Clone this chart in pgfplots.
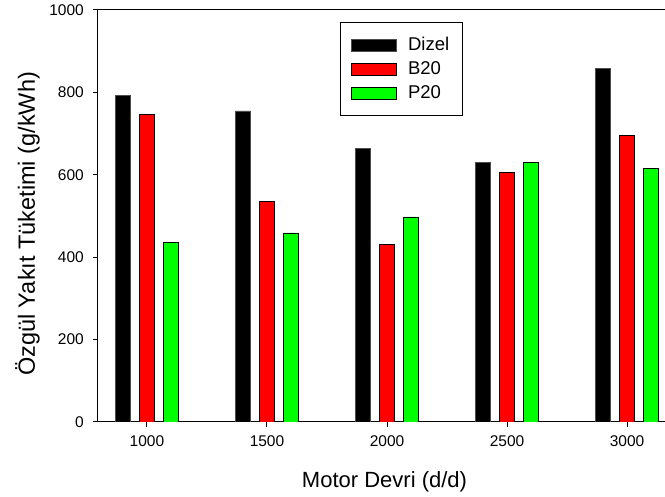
\documentclass[border=0pt]{standalone}
\usepackage{fontspec}
\setmainfont{Liberation Sans}
\usepackage{pgfplots}
\pgfplotsset{compat=1.18}
\definecolor{pgreen}{RGB}{0,255,0}
\definecolor{pred}{RGB}{255,0,0}
\begin{document}
\begin{tikzpicture}
\begin{axis}[
  scale only axis, width=567pt, height=412pt,
  xmin=796, xmax=3158, ymin=0, ymax=1000,
  axis x line=box, axis y line=left,
  axis line style={line width=1pt, -},
  xtick={1000,1500,2000,2500,3000},
  ytick={0,200,400,600,800,1000},
  xtick pos=left, ytick pos=left,
  tick align=outside, major tick length=5pt,
  tick style={line width=1pt, black},
  /pgf/number format/1000 sep={},
  /pgf/number format/assume math mode=true,
  scaled ticks=false,
  ticklabel style={font=\fontsize{15.5}{18}\selectfont},
  yticklabel style={inner sep=0pt, xshift=-9pt},
  xticklabel style={inner sep=0pt, yshift=-8pt},
  xlabel={Motor Devri (d/d)},
  ylabel={Özgül Yakıt Tüketimi (g/kWh)},
  every axis x label/.style={at={(axis description cs:0.5,0)}, anchor=base, yshift=-66pt, xshift=3pt, font=\fontsize{22}{26}\selectfont},
  every axis y label/.style={at={(axis description cs:0,0.5)}, xshift=-63pt, yshift=-8pt, rotate=90, anchor=base, font=\fontsize{23.5}{27}\selectfont},
  ybar=9pt, bar width=15pt,
  legend style={at={(0.4268,0.9709)}, anchor=north west, draw=black, line width=1pt,
    font=\fontsize{18.5}{22}\selectfont, inner xsep=11pt, inner ysep=13pt, row sep=5.5pt,
    column sep=9pt, cells={anchor=west}},
  legend image code/.code={\draw[#1,/tikz/.cd,line width=0.6pt] (0pt,-6pt) rectangle (45pt,6pt);},
]
\addplot[fill=black, draw=black!70, line width=0.6pt] coordinates {(1000,792) (1500,755) (2000,665) (2500,631) (3000,859)};
\addplot[fill=pred, draw=black, line width=0.6pt] coordinates {(1000,746) (1500,536) (2000,431) (2500,605) (3000,696)};
\addplot[fill=pgreen, draw=black, line width=0.6pt] coordinates {(1000,436) (1500,459) (2000,498) (2500,630) (3000,616)};
\legend{Dizel,B20,P20}
\coordinate (sw) at (rel axis cs:0,0);
\coordinate (ne) at (rel axis cs:1,1);
\end{axis}
\pgfresetboundingbox
\path ([shift={(-98pt,-75pt)}]sw) rectangle ([shift={(0pt,10pt)}]ne);
\end{tikzpicture}
\end{document}
